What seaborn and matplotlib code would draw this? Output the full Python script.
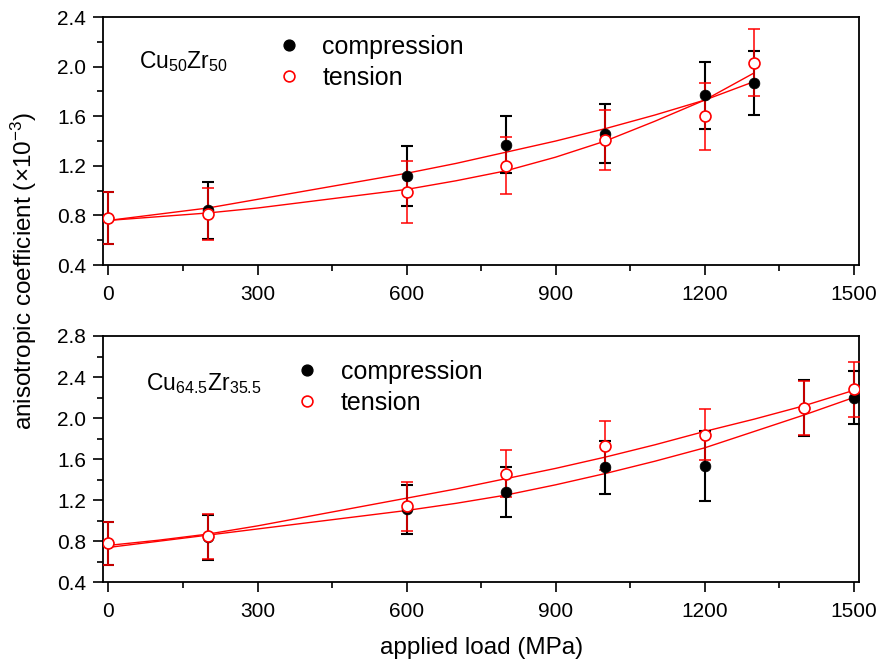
import numpy as np
import pandas as pd
import matplotlib
matplotlib.use("Agg")
import matplotlib.pyplot as plt
import seaborn as sns
from matplotlib.ticker import MultipleLocator, FormatStrFormatter
from matplotlib.lines import Line2D

# ---------------- data ----------------
# Cu50Zr50 (top panel)
top_load = [0, 200, 600, 800, 1000, 1200, 1300]
top_comp = [0.78, 0.84, 1.12, 1.37, 1.46, 1.77, 1.87]
top_comp_err = [0.21, 0.23, 0.24, 0.23, 0.24, 0.27, 0.26]
top_tens = [0.78, 0.81, 0.99, 1.20, 1.41, 1.60, 2.03]
top_tens_err = [0.21, 0.21, 0.25, 0.23, 0.24, 0.27, 0.27]
top_fit_load = [0, 100, 200, 300, 400, 500, 600, 700, 800, 900, 1000, 1100, 1200, 1300]
top_comp_fit = [0.76, 0.81, 0.86, 0.93, 1.00, 1.07, 1.14, 1.22, 1.31, 1.40, 1.50, 1.61, 1.73, 1.88]
top_tens_fit = [0.76, 0.79, 0.82, 0.86, 0.91, 0.96, 1.01, 1.08, 1.16, 1.27, 1.40, 1.56, 1.73, 1.95]

# Cu64.5Zr35.5 (bottom panel)
bot_load = [0, 200, 600, 800, 1000, 1200, 1400, 1500]
bot_comp = [0.78, 0.84, 1.11, 1.28, 1.52, 1.53, 2.10, 2.20]
bot_comp_err = [0.21, 0.22, 0.24, 0.24, 0.26, 0.34, 0.27, 0.26]
bot_tens = [0.78, 0.85, 1.14, 1.46, 1.73, 1.84, 2.10, 2.28]
bot_tens_err = [0.21, 0.22, 0.24, 0.23, 0.24, 0.25, 0.26, 0.27]
bot_fit_load = [0, 100, 200, 300, 400, 500, 600, 700, 800, 900, 1000, 1100, 1200, 1300, 1400, 1500]
bot_tens_fit = [0.76, 0.81, 0.87, 0.95, 1.04, 1.13, 1.22, 1.31, 1.41, 1.51, 1.62, 1.74, 1.87, 1.99, 2.12, 2.27]
bot_comp_fit = [0.74, 0.80, 0.86, 0.92, 0.98, 1.04, 1.10, 1.17, 1.25, 1.35, 1.46, 1.58, 1.71, 1.87, 2.03, 2.20]

x_ticks = [0, 300, 600, 900, 1200, 1500]
top_yticks = [0.4, 0.8, 1.2, 1.6, 2.0, 2.4]
bot_yticks = [0.4, 0.8, 1.2, 1.6, 2.0, 2.4, 2.8]

legend_labels = ["compression", "tension"]
top_alloy = r"Cu$_{50}$Zr$_{50}$"
bot_alloy = r"Cu$_{64.5}$Zr$_{35.5}$"
x_label = "applied load (MPa)"
y_label = r"anisotropic coefficient ($\times$10$^{-3}$)"

# ---------------- style ----------------
sns.set_theme(style="white")
plt.rcParams["font.family"] = ["Liberation Sans", "DejaVu Sans"]
plt.rcParams["mathtext.fontset"] = "custom"
plt.rcParams["mathtext.rm"] = "Liberation Sans"
plt.rcParams["mathtext.it"] = "Liberation Sans"
plt.rcParams["mathtext.default"] = "regular"
plt.rcParams["text.color"] = "black"
plt.rcParams["axes.labelcolor"] = "black"
plt.rcParams["xtick.color"] = "black"
plt.rcParams["ytick.color"] = "black"

fig = plt.figure(figsize=(8.79, 6.61), dpi=100)
ax_top = fig.add_axes([0.1172, 0.599, 0.8601, 0.3752])
ax_bot = fig.add_axes([0.1172, 0.1190, 0.8601, 0.3727])


def draw_panel(ax, load, comp, comp_err, tens, tens_err, fit_x, comp_fit, tens_fit,
               yticks, alloy, alloy_pos, leg_anchor):
    # fitted curves
    sns.lineplot(x=fit_x, y=comp_fit, ax=ax, color="red", lw=1.0,
                 estimator=None, sort=False, zorder=2)
    sns.lineplot(x=fit_x, y=tens_fit, ax=ax, color="red", lw=1.0,
                 estimator=None, sort=False, zorder=2)
    # error bars
    ax.errorbar(load, comp, yerr=comp_err, fmt="none", ecolor="black",
                elinewidth=1.5, capsize=4, capthick=1.5, zorder=3)
    ax.errorbar(load, tens, yerr=tens_err, fmt="none", ecolor="red",
                elinewidth=1.1, capsize=4, capthick=1.1, zorder=4)
    # markers
    sns.scatterplot(x=load, y=comp, ax=ax, color="black", edgecolor="black",
                    s=60, marker="o", linewidth=0.5, zorder=5)
    sns.scatterplot(x=load, y=tens, ax=ax, color="white", edgecolor="red",
                    s=62, marker="o", linewidth=1.2, zorder=6)

    ax.set_xlim(-11, 1511)
    ax.set_ylim(yticks[0], yticks[-1])
    ax.set_xticks(x_ticks)
    ax.xaxis.set_minor_locator(MultipleLocator(150))
    ax.set_yticks(yticks)
    ax.yaxis.set_minor_locator(MultipleLocator(0.2))
    ax.yaxis.set_major_formatter(FormatStrFormatter("%.1f"))
    ax.tick_params(axis="both", which="major", direction="out", length=7,
                   width=1.2, labelsize=15, color="black", labelcolor="black",
                   left=True, bottom=True, top=False, right=False)
    ax.tick_params(axis="both", which="minor", direction="out", length=4,
                   width=1.2, left=True, bottom=True, top=False, right=False)
    ax.tick_params(axis="x", pad=7)
    ax.tick_params(axis="y", pad=5)
    for sp in ax.spines.values():
        sp.set_visible(True)
        sp.set_color("black")
        sp.set_linewidth(1.3)
    ax.set_xlabel("")
    ax.set_ylabel("")
    ax.grid(False)

    ax.text(alloy_pos[0], alloy_pos[1], alloy, transform=ax.transAxes,
            fontsize=16.5, ha="left", va="baseline", color="black")

    handles = [
        Line2D([], [], linestyle="none", marker="o", markersize=7.8,
               markerfacecolor="black", markeredgecolor="black"),
        Line2D([], [], linestyle="none", marker="o", markersize=7.8,
               markerfacecolor="white", markeredgecolor="red", markeredgewidth=1.2),
    ]
    leg = ax.legend(handles, legend_labels, loc="center left", bbox_to_anchor=leg_anchor,
                    frameon=False, fontsize=18, handlelength=1.0, handletextpad=0.85,
                    labelspacing=0.28, borderpad=0, borderaxespad=0)
    for t in leg.get_texts():
        t.set_color("black")


draw_panel(ax_top, top_load, top_comp, top_comp_err, top_tens, top_tens_err,
           top_fit_load, top_comp_fit, top_tens_fit, top_yticks, top_alloy,
           (0.048, 0.794), (0.229, 0.816))
draw_panel(ax_bot, bot_load, bot_comp, bot_comp_err, bot_tens, bot_tens_err,
           bot_fit_load, bot_comp_fit, bot_tens_fit, bot_yticks, bot_alloy,
           (0.057, 0.781), (0.253, 0.790))

fig.text(0.548, 0.02, x_label, ha="center", va="center", fontsize=17.5, color="black")
fig.text(0.027, 0.59, y_label, ha="center", va="center", rotation=90, fontsize=17.5,
         color="black")

fig.savefig("out.png", dpi=100)
